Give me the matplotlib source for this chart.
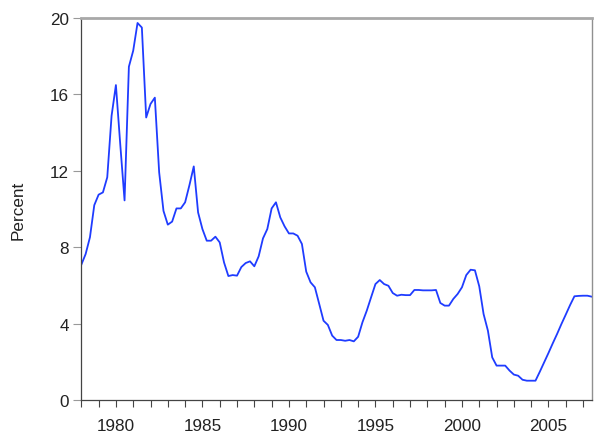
import matplotlib
matplotlib.use('Agg')
import matplotlib.pyplot as plt
import numpy as np

# quarterly data, 1978Q1 .. 2007Q3
start_year = 1978
rate = [
    7.08, 7.64, 8.52, 10.2, 10.75, 10.87, 11.66, 14.88,
    16.49, 13.4, 10.45, 17.45, 18.29, 19.74, 19.5, 14.79,
    15.5, 15.83, 11.92, 9.9, 9.18, 9.34, 10.03, 10.03,
    10.35, 11.25, 12.23, 9.82, 8.95, 8.34, 8.34, 8.55,
    8.25, 7.2, 6.49, 6.54, 6.51, 6.96, 7.17, 7.26,
    7.0, 7.52, 8.46, 8.95, 10.03, 10.35, 9.56, 9.09,
    8.72, 8.72, 8.6, 8.17, 6.72, 6.16, 5.9, 5.03,
    4.15, 3.93, 3.37, 3.14, 3.14, 3.1, 3.14, 3.07,
    3.31, 4.07, 4.68, 5.38, 6.07, 6.28, 6.07, 5.98,
    5.6, 5.46, 5.51, 5.49, 5.49, 5.76, 5.76, 5.74,
    5.74, 5.74, 5.76, 5.08, 4.94, 4.94, 5.29, 5.55,
    5.9, 6.54, 6.82, 6.79, 5.95, 4.5, 3.63, 2.23,
    1.8, 1.8, 1.8, 1.54, 1.33, 1.27, 1.06, 1.01,
    1.01, 1.01, 1.48, 1.97, 2.46, 2.97, 3.46, 3.98,
    4.47, 4.97, 5.43, 5.45, 5.46, 5.46, 5.41,
]
years = start_year + np.arange(len(rate)) / 4.0

plt.rcParams['font.family'] = ['Liberation Sans', 'DejaVu Sans']

fig = plt.figure(figsize=(6, 4.39), dpi=100)
ax = fig.add_axes([0.1355, 0.0866, 0.8507, 0.8701])

ax.plot(years, rate, color='#1f3cff', linewidth=1.3)

ax.set_xlim(years[0], years[-1])
ax.set_ylim(0, 20)
ax.set_yticks([0, 4, 8, 12, 16, 20])
ax.set_xticks([1980, 1985, 1990, 1995, 2000, 2005])
ax.set_xticks(np.arange(1978, 2008), minor=True)
ax.set_ylabel('Percent', fontsize=12.3, color='#222222', labelpad=17)

ax.tick_params(axis='both', labelsize=12.3, labelcolor='#222222', direction='out')
ax.tick_params(axis='x', which='both', length=5, width=0.8, color='#444444')
ax.tick_params(axis='x', which='major', pad=8)
ax.tick_params(axis='y', length=6, width=0.8, pad=3, color='#999999')

for s in ['left', 'bottom']:
    ax.spines[s].set_color('#444444')
    ax.spines[s].set_linewidth(0.9)
ax.spines['top'].set_color('#a8a8a8')
ax.spines['top'].set_linewidth(2.0)
ax.spines['right'].set_color('#909090')
ax.spines['right'].set_linewidth(1.0)

fig.savefig('out.png', dpi=100)
